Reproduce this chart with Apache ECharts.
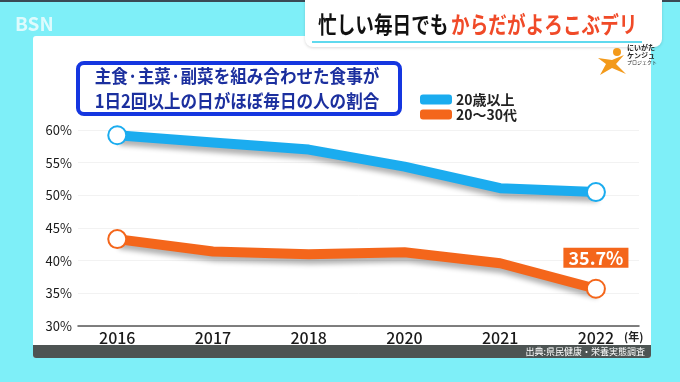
<!DOCTYPE html>
<html><head><meta charset="utf-8">
<script src="https://cdn.jsdelivr.net/npm/echarts@6/dist/echarts.min.js"></script>
<style>html,body{margin:0;padding:0;background:#7EEFF8;}#c{width:680px;height:382px;}</style>
</head><body><div id="c"></div>
<script>
const years = ['2016', '2017', '2018', '2020', '2021', '2022'];
const adults = [59.2, 58.1, 57.0, 54.4, 51.1, 50.5];
const young = [43.3, 41.4, 41.0, 41.3, 39.6, 35.7];
const seriesNames = ['20歳以上', '20～30代'];
const blue = '#1BACEF', orange = '#F4661B';
const FONT = '"Noto Sans CJK JP", "Noto Sans", sans-serif';

function mk(vals, color, labelLast) {
  const last = vals.length - 1;
  return vals.map((v, i) => {
    const d = { value: [i, v], symbol: (i === 0 || i === last) ? 'circle' : 'none' };
    if (labelLast && i === last) {
      d.label = { show: true, formatter: v.toFixed(1) + '%', position: 'top', distance: 11,
        backgroundColor: color, color: '#fff', fontSize: 18, fontWeight: 'bold', fontFamily: FONT,
        padding: [0, 5, 0, 5], lineHeight: 20 };
    }
    return d;
  });
}

const chart = echarts.init(document.getElementById('c'));
chart.setOption({
  backgroundColor: '#7EEFF8',
  animation: false,
  graphic: [
    { type: 'rect', shape: { x: 0, y: 0, width: 680, height: 2 }, style: { fill: '#3a4a55' } },
    { type: 'rect', shape: { x: 33, y: 36, width: 618, height: 322, r: 3 }, style: { fill: '#ffffff' } },
    { type: 'rect', shape: { x: 33, y: 345, width: 618, height: 13, r: [0, 0, 3, 3] }, style: { fill: '#4d5453' } },
    { type: 'text', x: 645, y: 352, style: { text: '出典:県民健康・栄養実態調査', fill: '#fff', font: '9px ' + FONT, textAlign: 'right', textVerticalAlign: 'middle' } },
    { type: 'rect', shape: { x: 305, y: 0, width: 357, height: 47, r: [0, 0, 8, 8] }, style: { fill: '#ffffff', shadowColor: 'rgba(0,0,0,0.15)', shadowBlur: 3, shadowOffsetY: 1 } },
    { type: 'rect', shape: { x: 312, y: 41, width: 330, height: 2 }, style: { fill: '#5fd9ee' } },
    { type: 'text', x: 318, y: 24, scaleX: 0.81, style: { text: '{a|忙しい毎日でも} {b|からだがよろこぶデリ}', textVerticalAlign: 'middle', textAlign: 'left',
        rich: { a: { fill: '#111', fontSize: 23, fontWeight: 'bold', fontFamily: FONT }, b: { fill: '#F04A28', fontSize: 23, fontWeight: 'bold', fontFamily: FONT } } } },
    { type: 'text', x: 15, y: 24, style: { text: 'BSN', fill: 'rgba(255,255,255,0.75)', font: 'bold 19px ' + FONT, textVerticalAlign: 'middle' } },
    { type: 'circle', shape: { cx: 617, cy: 52, r: 4 }, style: { fill: '#F39A1B' } },
    { type: 'polygon', shape: { points: [[598, 58], [612, 60], [624, 55], [616, 64], [626, 74], [612, 68], [600, 75], [606, 64]] }, style: { fill: '#F39A1B' } },
    { type: 'text', x: 627, y: 51, style: { text: 'にいがた\nケンジュ', fill: '#222', font: 'bold 7px ' + FONT, lineHeight: 8, textVerticalAlign: 'middle' } },
    { type: 'text', x: 627, y: 62, style: { text: 'プロジェクト', fill: '#222', font: '5px ' + FONT, textVerticalAlign: 'middle' } },
    { type: 'rect', shape: { x: 78, y: 63, width: 322, height: 51, r: 6 }, style: { fill: '#fff', stroke: '#1536E0', lineWidth: 4 } },
    { type: 'text', x: 237, y: 89, scaleX: 0.92, style: { text: '主食·主菜·副菜を組み合わせた食事が\n1日2回以上の日がほぼ毎日の人の割合', fill: '#1B2F9E',
        font: 'bold 18px ' + FONT, lineHeight: 25, textAlign: 'center', textVerticalAlign: 'middle' } },
    { type: 'text', x: 624, y: 337, style: { text: '(年)', fill: '#222', font: 'bold 11px ' + FONT, textVerticalAlign: 'middle' } }
  ],
  legend: {
    orient: 'vertical', left: 415, top: 87, itemWidth: 30, itemHeight: 8, itemGap: 0, icon: 'roundRect',
    textStyle: { fontSize: 14, fontWeight: 'bold', color: '#222', fontFamily: FONT, lineHeight: 15 },
    data: [
      { name: seriesNames[0], itemStyle: { color: blue } },
      { name: seriesNames[1], itemStyle: { color: orange } }
    ]
  },
  grid: { left: 78, right: 41, top: 130, bottom: 56 },
  xAxis: {
    type: 'value', min: -0.41, max: 5.45,
    axisLine: { show: true, onZero: false, lineStyle: { color: '#555', width: 1.5 } },
    axisTick: { show: false },
    splitLine: { show: false },
    axisLabel: { customValues: [0, 1, 2, 3, 4, 5], formatter: v => years[Math.round(v)], fontSize: 16, color: '#1a1a1a', fontFamily: FONT, fontWeight: 500, margin: 4 }
  },
  yAxis: {
    type: 'value', min: 30, max: 60, interval: 5,
    axisLine: { show: false }, axisTick: { show: false },
    splitLine: { lineStyle: { color: '#f2f2f2', width: 1 } },
    axisLabel: { formatter: '{value}%', fontSize: 13, color: '#1a1a1a', fontFamily: FONT, margin: 6 }
  },
  series: [
    { name: seriesNames[0], type: 'line', data: mk(adults, blue, false), symbolSize: 18,
      lineStyle: { color: blue, width: 10, shadowColor: 'rgba(0,0,0,0.3)', shadowBlur: 5, shadowOffsetY: 5, shadowOffsetX: 2 },
      itemStyle: { color: '#fff', borderColor: blue, borderWidth: 2 }, z: 3 },
    { name: seriesNames[1], type: 'line', data: mk(young, orange, true), symbolSize: 18,
      lineStyle: { color: orange, width: 10, shadowColor: 'rgba(0,0,0,0.3)', shadowBlur: 5, shadowOffsetY: 5, shadowOffsetX: 2 },
      itemStyle: { color: '#fff', borderColor: orange, borderWidth: 2 }, z: 3 }
  ]
});
</script></body></html>
